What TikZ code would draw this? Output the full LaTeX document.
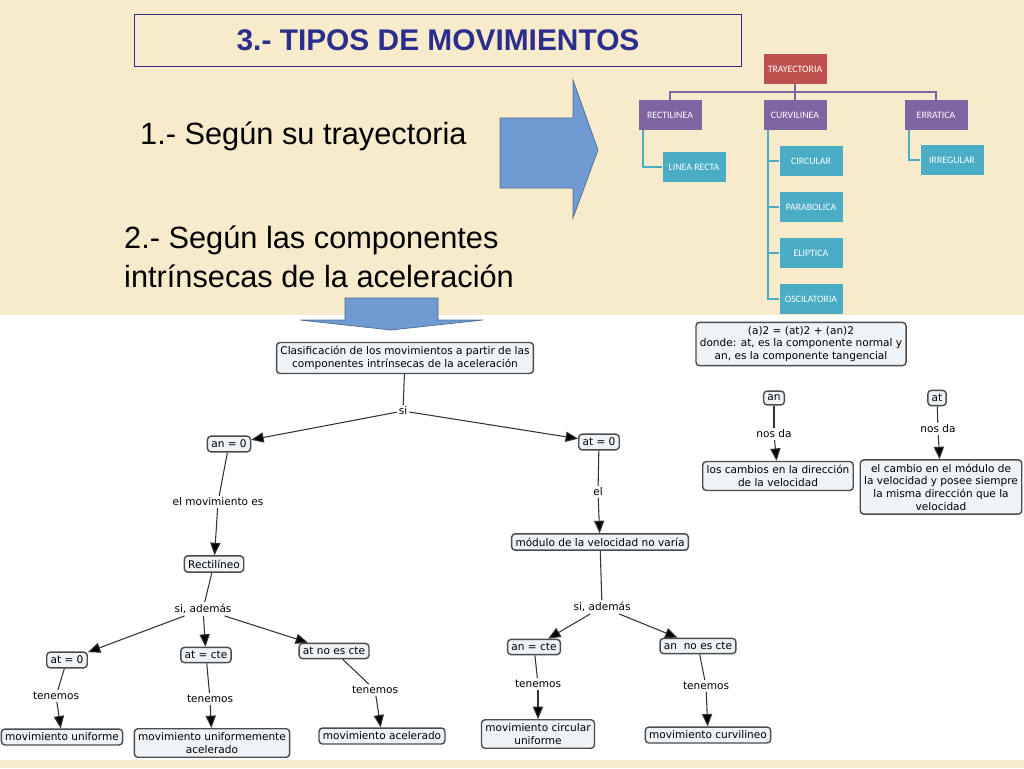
\documentclass[tikz,border=0pt]{standalone}
\usepackage{fontspec}
\setmainfont{Liberation Sans}
\newfontfamily\mapfont{DejaVu Sans}
\newfontfamily\treefont{Carlito}
\usetikzlibrary{arrows, shapes, positioning}
\definecolor{beige}{HTML}{F8EBCB}
\definecolor{titleblue}{HTML}{2B2E8C}
\definecolor{arrowblue}{HTML}{6F9AD2}
\definecolor{treered}{HTML}{C0504D}
\definecolor{treepurple}{HTML}{8064A2}
\definecolor{treeteal}{HTML}{4BACC6}
\definecolor{conceptfill}{HTML}{EEF3F7}

\begin{document}
\begin{tikzpicture}[x=0.02cm,y=-0.02cm,>=triangle 45]
				\tikzstyle{concept} = [draw=black!70, fill=conceptfill, rounded corners=2pt, thick, align=center, font=\mapfont\fontsize{6}{7.2}\selectfont, inner sep=2.2pt]
				\tikzstyle{linking} = [fill=white, inner sep=1pt, font=\mapfont\fontsize{6}{7.2}\selectfont]
				\tikzstyle{treebox} = [minimum width=1.26cm, minimum height=0.6cm, text=white, font=\treefont\fontsize{5.6}{6.5}\selectfont, inner sep=1pt]
				\tikzstyle{treeline} = [line width=1.2pt]

				% background and frame
				\useasboundingbox (0,0) rectangle (1024,768);
				\fill[beige] (0,0) rectangle (1024,315);
				\fill[beige] (0,760) rectangle (1024,768);
				\node[draw=titleblue, fill=beige, minimum width=12.14cm, minimum height=1.04cm, text=titleblue, font=\bfseries\fontsize{17}{19}\selectfont] (title) at (438,40) {3.- TIPOS DE MOVIMIENTOS};
				\node[anchor=west, font=\fontsize{17.5}{21}\selectfont] (byTrajectory) at (134,136) {1.- Según su trayectoria};
				\node[anchor=north west, align=left, font=\fontsize{17.5}{22}\selectfont] (byComponents) at (118,220) {2.- Según las componentes\\intrínsecas de la aceleración};

				% big arrows
				\draw[fill=arrowblue, draw=arrowblue!70!black] (500,118) -- (573,118) -- (573,80) -- (598,150) -- (573,218) -- (573,188) -- (500,188) -- cycle;
				\draw[fill=arrowblue, draw=arrowblue!70!black] (345,298) -- (438,298) -- (438,320) -- (483,320) -- (391,330) -- (300,320) -- (345,320) -- cycle;

				% trajectory tree
				\node[treebox, fill=treered] (trayectoria) at (795,69) {TRAYECTORIA};
				\node[treebox, fill=treepurple] (rectilinea) at (670,115) {RECTILINEA};
				\node[treebox, fill=treepurple] (curvilinea) at (795,115) {CURVILINEA};
				\node[treebox, fill=treepurple] (erratica) at (936,115) {ERRATICA};
				\node[treebox, fill=treeteal] (linearecta) at (694,167) {LINEA RECTA};
				\node[treebox, fill=treeteal] (circular) at (811,161) {CIRCULAR};
				\node[treebox, fill=treeteal] (parabolica) at (811,207) {PARABOLICA};
				\node[treebox, fill=treeteal] (eliptica) at (811,253) {ELIPTICA};
				\node[treebox, fill=treeteal] (oscilatoria) at (811,299) {OSCILATORIA};
				\node[treebox, fill=treeteal] (irregular) at (952,160) {IRREGULAR};
				\draw[treeline, treepurple] (trayectoria.south) -- ++(0,8) -| (rectilinea.north);
				\draw[treeline, treepurple] (trayectoria.south) -- ++(0,8) -| (erratica.north);
				\draw[treeline, treepurple] (trayectoria.south) -- (curvilinea.north);
				\draw[treeline, treeteal] (rectilinea.south west) ++(5,0) |- (linearecta.west);
				\draw[treeline, treeteal] (erratica.south west) ++(5,0) |- (irregular.west);
				\foreach \leaf in {circular, parabolica, eliptica, oscilatoria}
					\draw[treeline, treeteal] (curvilinea.south west) ++(5,0) |- (\leaf.west);

				% concept map
				\node[concept] (formula) at (801,344) {(a)2 = (at)2 + (an)2\\donde: at, es la componente normal y\\an, es la componente tangencial};
				\node[concept] (an) at (774,398) {an};
				\node[concept] (at) at (937,398) {at};
				\node[linking] (nosdaN) at (774,434) {nos da};
				\node[linking] (nosdaT) at (938,429) {nos da};
				\node[concept] (direccion) at (778,476) {los cambios en la dirección\\de la velocidad};
				\node[concept] (modulo) at (941,487) {el cambio en el módulo de\\la velocidad y posee siempre\\la misma dirección que la\\velocidad};
				\node[concept] (clasif) at (405,358) {Clasificación de los movimientos a partir de las\\componentes intrínsecas de la aceleración};
				\node[linking] (si) at (403,411) {si};
				\node[concept] (anzero) at (229,444) {an = 0};
				\node[concept] (atzero) at (599,442) {at = 0};
				\node[linking] (movEs) at (218,502) {el movimiento es};
				\node[linking] (el) at (598,492) {el};
				\node[concept] (rectilineo) at (214,564) {Rectilíneo};
				\node[concept] (novaria) at (600,542) {módulo de la velocidad no varía};
				\node[linking] (ademasL) at (203,609) {si, además};
				\node[linking] (ademasR) at (602,607) {si, además};
				\node[concept] (atzeroB) at (67,660) {at = 0};
				\node[concept] (atcte) at (206,655) {at = cte};
				\node[concept] (atnocte) at (334,651) {at no es cte};
				\node[concept] (ancte) at (534,647) {an = cte};
				\node[concept] (annocte) at (698,646) {an\ \ no es cte};
				\node[linking] (tenemosA) at (56,696) {tenemos};
				\node[linking] (tenemosB) at (210,699) {tenemos};
				\node[linking] (tenemosC) at (375,690) {tenemos};
				\node[linking] (tenemosD) at (538,684) {tenemos};
				\node[linking] (tenemosE) at (706,686) {tenemos};
				\node[concept] (uniforme) at (62,737) {movimiento uniforme};
				\node[concept] (unifacel) at (212,743) {movimiento uniformemente\\acelerado};
				\node[concept] (acelerado) at (382,736) {movimiento acelerado};
				\node[concept] (circunif) at (538,734) {movimiento circular\\uniforme};
				\node[concept] (curvilineo) at (708,735) {movimiento curvilineo};

				\path[semithick, draw=black!80] (clasif) edge (si) (an) edge (nosdaN) (at) edge (nosdaT)
				      (anzero) edge (movEs) (atzero) edge (el) (rectilineo) edge (ademasL) (novaria) edge (ademasR)
				      (atzeroB) edge (tenemosA) (atcte) edge (tenemosB) (atnocte) edge (tenemosC)
				      (ancte) edge (tenemosD) (annocte) edge (tenemosE);
				\path[->, semithick, draw=black!80] (si) edge (anzero) (si) edge (atzero)
				      (nosdaN) edge (direccion) (nosdaT) edge (modulo)
				      (movEs) edge (rectilineo) (el) edge (novaria)
				      (ademasL) edge (atzeroB) (ademasL) edge (atcte) (ademasL) edge (atnocte)
				      (ademasR) edge (ancte) (ademasR) edge (annocte)
				      (tenemosA) edge (uniforme) (tenemosB) edge (unifacel) (tenemosC) edge (acelerado)
				      (tenemosD) edge (circunif) (tenemosE) edge (curvilineo);
			\end{tikzpicture}
\end{document}
